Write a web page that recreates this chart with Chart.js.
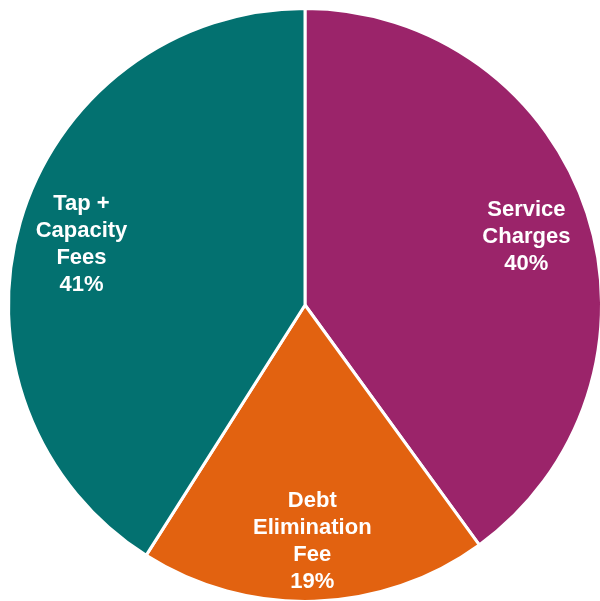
<!DOCTYPE html>
<html>
<head>
<meta charset="utf-8">
<script src="https://cdn.jsdelivr.net/npm/chart.js@4"></script>
<style>
  html, body { margin: 0; padding: 0; background: #fff; overflow: hidden; }
  #wrap { position: absolute; left: 0; top: 0; width: 610px; height: 610px; }
</style>
</head>
<body>
<div id="wrap"><canvas id="chart-pie" width="610" height="610"></canvas></div>
<script>
const categories = ['Service Charges', 'Debt Elimination Fee', 'Tap + Capacity Fees'];
const sliceLines = [['Service', 'Charges', '40%'], ['Debt', 'Elimination', 'Fee', '19%'], ['Tap +', 'Capacity', 'Fees', '41%']];
const shares = [40, 19, 41];
const sliceColors = ['#9B246A', '#E26210', '#037170'];

// labels inside each slice, along the middle angle
const sliceLabels = {
    id: 'sliceLabels',
    afterDatasetsDraw(chart) {
        const ctx = chart.ctx;
        const arcs = chart.getDatasetMeta(0).data;
        ctx.save();
        ctx.fillStyle = '#ffffff';
        ctx.font = 'bold 22px "Liberation Sans", Arial, sans-serif';
        ctx.textAlign = 'center';
        ctx.textBaseline = 'middle';
        arcs.forEach((arc, i) => {
            const p = arc.getProps(['x', 'y', 'startAngle', 'endAngle', 'outerRadius'], true);
            const mid = (p.startAngle + p.endAngle) / 2;
            const r = p.outerRadius * 0.785;
            const cx = p.x + Math.cos(mid) * r;
            const cy = p.y + Math.sin(mid) * r + 4;
            const lines = sliceLines[i];
            const lh = 27;
            lines.forEach((t, j) => {
                ctx.fillText(t, cx, cy + (j - (lines.length - 1) / 2) * lh);
            });
        });
        ctx.restore();
    }
};

const ctx = document.getElementById('chart-pie').getContext('2d');
new Chart(ctx, {
    type: 'pie',
    data: {
        labels: categories,
        datasets: [{
            data: shares,
            backgroundColor: sliceColors,
            borderColor: '#ffffff',
            borderWidth: 3
        }]
    },
    options: {
        responsive: false,
        animation: false,
        layout: { padding: 7 },
        plugins: {
            legend: { display: false },
            tooltip: { enabled: false }
        }
    },
    plugins: [sliceLabels]
});
</script>
</body>
</html>
